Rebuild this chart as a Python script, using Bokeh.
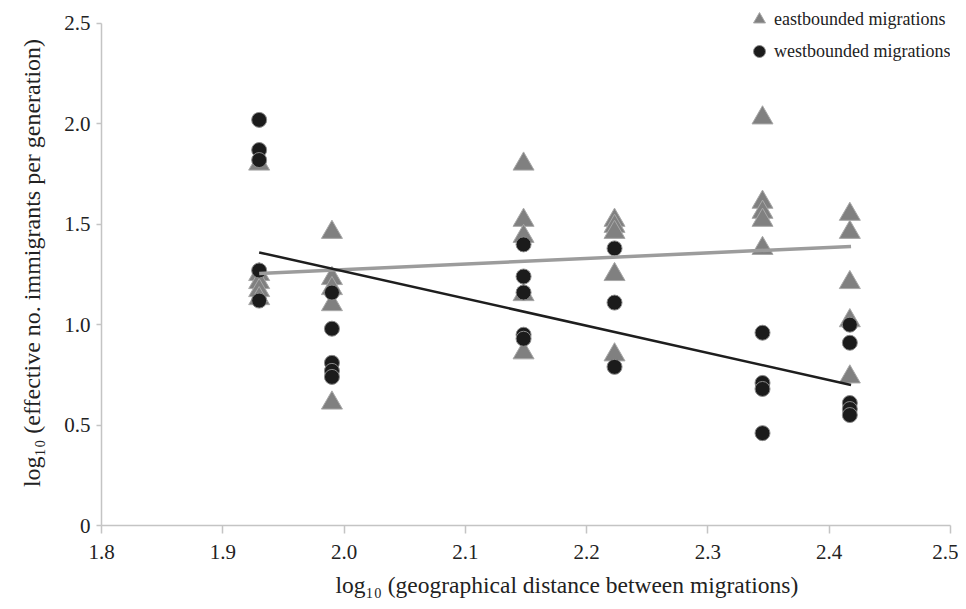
from bokeh.plotting import figure
from bokeh.models import FixedTicker, NumeralTickFormatter, Legend, LegendItem, Range1d, Title
from bokeh.embed import file_html
from bokeh.resources import INLINE

# ---- data ----
east_x = [1.93] * 5 + [1.99] * 5 + [2.148] * 5 + [2.223] * 5 + [2.345] * 5 + [2.417] * 5
east_y = [1.80, 1.25, 1.21, 1.17, 1.13,
          1.46, 1.23, 1.18, 1.10, 0.61,
          1.80, 1.52, 1.44, 1.15, 0.86,
          1.52, 1.49, 1.46, 1.25, 0.85,
          2.03, 1.61, 1.56, 1.52, 1.38,
          1.55, 1.46, 1.21, 1.02, 0.74]

west_x = [1.93] * 5 + [1.99] * 5 + [2.148] * 5 + [2.223] * 3 + [2.345] * 4 + [2.417] * 5
west_y = [2.02, 1.87, 1.82, 1.27, 1.12,
          1.16, 0.98, 0.81, 0.77, 0.74,
          1.40, 1.24, 1.16, 0.95, 0.93,
          1.38, 1.11, 0.79,
          0.96, 0.71, 0.68, 0.46,
          1.00, 0.91, 0.61, 0.58, 0.55]

fit_x = [1.93, 2.418]
east_fit_y = [1.255, 1.39]
west_fit_y = [1.36, 0.70]

x_ticks = [1.8, 1.9, 2.0, 2.1, 2.2, 2.3, 2.4, 2.5]
y_ticks = [0, 0.5, 1.0, 1.5, 2.0, 2.5]

x_title = "log\u2081\u2080 (geographical distance between migrations)"
y_title = "log\u2081\u2080 (effective no. immigrants per generation)"

FONT = "Liberation Serif"

# frame extends a little above 2.5 so the legend (which sits above the axis top) is not clipped
p = figure(frame_width=849, frame_height=525,
           min_border_left=101, min_border_right=8, min_border_top=0, min_border_bottom=0,
           x_range=Range1d(1.8, 2.5), y_range=Range1d(0, 2.6145),
           output_backend="svg", toolbar_location=None)
p.outline_line_color = None
p.xgrid.visible = False
p.ygrid.visible = False
p.background_fill_color = "white"
p.border_fill_color = "white"

tri = p.scatter(east_x, east_y, marker="triangle", size=21,
                fill_color="#808080", line_color="#a8a8a8", line_width=1)
circ = p.scatter(west_x, west_y, marker="circle", size=15,
                 fill_color="#1b1b1b", line_color="#8a8a8a", line_width=1)

p.line(fit_x, east_fit_y, line_color="#9c9c9c", line_width=3.5)
p.line(fit_x, west_fit_y, line_color="#1e1e1e", line_width=2.5)

for ax in (p.xaxis[0], p.yaxis[0]):
    ax.axis_line_color = "#c4c4c4"
    ax.axis_line_width = 1.5
    ax.major_tick_line_color = "#c4c4c4"
    ax.major_tick_line_width = 1.5
    ax.major_tick_in = 0
    ax.minor_tick_line_color = None
    ax.major_label_text_font = FONT
    ax.major_label_text_font_size = "21px"
    ax.major_label_text_color = "#222222"
    ax.axis_label_text_font = FONT
    ax.axis_label_text_font_size = "24px"
    ax.axis_label_text_font_style = "normal"
    ax.axis_label_text_color = "#222222"

p.xaxis.ticker = FixedTicker(ticks=x_ticks)
p.yaxis.ticker = FixedTicker(ticks=y_ticks)
p.yaxis.bounds = (0, 2.5)
p.xaxis.formatter = NumeralTickFormatter(format="0.0")
p.yaxis.formatter = NumeralTickFormatter(format="0.0")
p.yaxis.major_label_overrides = {0: "0"}
p.xaxis.major_tick_out = 8
p.yaxis.major_tick_out = 5
p.xaxis.major_label_standoff = 11
p.yaxis.major_label_standoff = 6
p.yaxis.axis_label = y_title
p.yaxis.axis_label_standoff = 16

xt = Title(text=x_title, align="left", offset=234, standoff=17,
           text_font=FONT, text_font_size="23.5px", text_font_style="normal",
           text_color="#222222")
p.add_layout(xt, "below")

legend = Legend(items=[LegendItem(label="eastbounded migrations", renderers=[tri]),
                       LegendItem(label="westbounded migrations", renderers=[circ])],
                location=(643, 459), padding=8, margin=0, spacing=2,
                glyph_width=30, glyph_height=30, label_height=30, label_standoff=0,
                label_text_font=FONT, label_text_font_size="18px", label_text_color="#222222",
                border_line_color=None, background_fill_alpha=0)
p.add_layout(legend, "center")

open("out.html", "w").write(file_html(p, INLINE))
